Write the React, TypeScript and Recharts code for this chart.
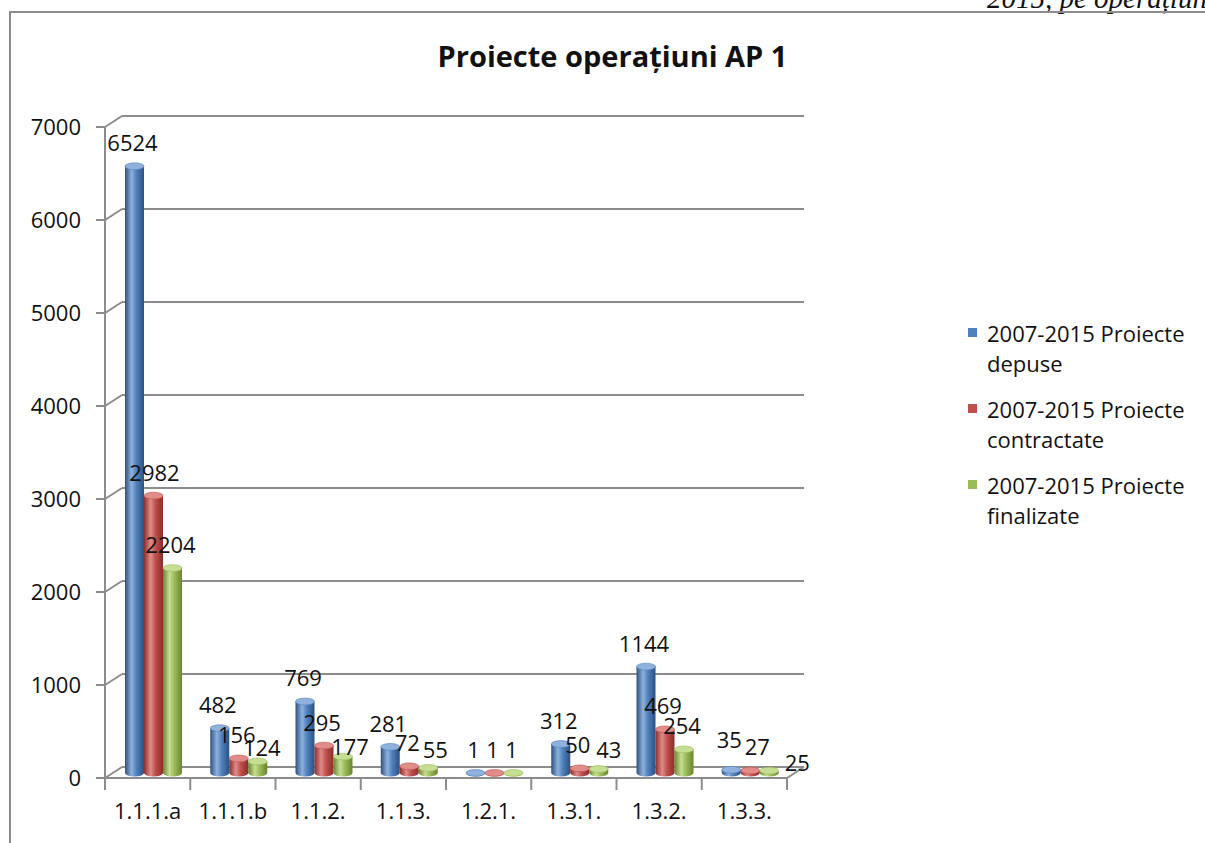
import React from "react";
import { BarChart, Bar, XAxis, YAxis, CartesianGrid, LabelList } from "recharts";

const categories = ["1.1.1.a", "1.1.1.b", "1.1.2.", "1.1.3.", "1.2.1.", "1.3.1.", "1.3.2.", "1.3.3."];
const depuse = [6524, 482, 769, 281, 1, 312, 1144, 35];
const contractate = [2982, 156, 295, 72, 1, 50, 469, 27];
const finalizate = [2204, 124, 177, 55, 1, 43, 254, 25];
const yTicks = [0, 1000, 2000, 3000, 4000, 5000, 6000, 7000];

const seriesList = [
  { key: "depuse", name: "2007-2015 Proiecte depuse", values: depuse, color: "#4F81BD", dark: "#2c5182", light: "#8fb1dc" },
  { key: "contractate", name: "2007-2015 Proiecte contractate", values: contractate, color: "#C0504D", dark: "#8a2d2a", light: "#e08c89" },
  { key: "finalizate", name: "2007-2015 Proiecte finalizate", values: finalizate, color: "#9BBB59", dark: "#68852f", light: "#c6de93" },
];

const data = categories.map((c, i) => ({
  name: c,
  depuse: depuse[i],
  contractate: contractate[i],
  finalizate: finalizate[i],
}));

// 3D look: bars and back wall are pushed up-right
const DX = 6;
const DY = -5;
const WALL_DX = 17;
const WALL_DY = -11;
const PLOT_BOTTOM = 778;
const PLOT_RIGHT = 787;
const BAND = (787 - 105) / categories.length;
const FONT = "'Open Sans', sans-serif";
const GRID = "#8c8c8c";

const Cylinder = (props: any) => {
  const { x, y, width, height, s } = props;
  const left = x + DX;
  const top = y + DY;
  const h = Math.max(height, 0);
  const rx = width / 2;
  const ry = 3.4;
  const d = `M${left},${top} L${left},${top + h} A${rx},${ry} 0 0 0 ${left + width},${top + h} L${left + width},${top} Z`;
  return (
    <g>
      <path d={d} fill={`url(#cyl-${s.key})`} />
      <ellipse cx={left + rx} cy={top} rx={rx} ry={ry} fill={s.light} stroke={s.color} strokeWidth={0.6} />
    </g>
  );
};

// excel moved a few labels around to dodge each other
const labelNudge: Record<string, [number, number]> = {
  "contractate-0": [3, 0],
  "finalizate-1": [6, 10],
  "finalizate-2": [9, 13],
  "finalizate-3": [9, 5],
  "finalizate-5": [12, 4],
  "depuse-7": [0, -7],
  "contractate-7": [9, 0],
  "finalizate-7": [30, 15],
};

const makeLabel = (key: string) => (props: any) => {
  const { x, y, width, value, index } = props;
  const nudge = labelNudge[`${key}-${index}`] || [0, 0];
  return (
    <text
      x={x + width / 2 + DX - 2 + nudge[0]}
      y={y + DY - 15 + nudge[1]}
      textAnchor="middle"
      fontFamily={FONT}
      fontSize={22}
      fill="#111"
    >
      {value}
    </text>
  );
};

const gridLine = (props: any) => {
  const { x1, y1, x2, index } = props;
  const isFloor = Math.abs(y1 - PLOT_BOTTOM) < 1;
  return (
    <g key={`g-${index}`}>
      <line x1={x1} y1={y1} x2={x1 + WALL_DX} y2={y1 + WALL_DY} stroke={GRID} strokeWidth={2} />
      <line x1={x1 + WALL_DX} y1={y1 + WALL_DY} x2={x2 + WALL_DX} y2={y1 + WALL_DY} stroke={GRID} strokeWidth={2} />
      {isFloor && (
        <line x1={x2} y1={y1} x2={x2 + WALL_DX} y2={y1 + WALL_DY} stroke={GRID} strokeWidth={2} />
      )}
    </g>
  );
};

const CategoryTick = (props: any) => {
  const { x, payload, index } = props;
  const left = x - BAND / 2;
  return (
    <g>
      <line x1={left} y1={PLOT_BOTTOM} x2={left} y2={PLOT_BOTTOM + 12} stroke={GRID} strokeWidth={2} />
      {index === categories.length - 1 && (
        <line x1={x + BAND / 2} y1={PLOT_BOTTOM} x2={x + BAND / 2} y2={PLOT_BOTTOM + 12} stroke={GRID} strokeWidth={2} />
      )}
      <text x={x} y={PLOT_BOTTOM + 41} textAnchor="middle" fontFamily={FONT} fontSize={22} fill="#111">
        {payload.value}
      </text>
    </g>
  );
};

export default function App() {
  return (
    <div style={{ position: "absolute", left: 0, top: 0, width: 1205, height: 843, overflow: "hidden", background: "#fff" }}>
      <div
        style={{
          position: "absolute",
          left: 987,
          top: -16,
          fontFamily: "'Liberation Serif', serif",
          fontStyle: "italic",
          fontSize: 29,
          lineHeight: "29px",
          whiteSpace: "nowrap",
          color: "#111",
        }}
      >
        2015, pe operațiuni
      </div>
      <div style={{ position: "absolute", left: 9, top: 11, width: 1300, height: 2, background: GRID }} />
      <div style={{ position: "absolute", left: 9, top: 11, width: 2, height: 900, background: GRID }} />
      <div
        style={{
          position: "absolute",
          left: 0,
          width: 1225,
          top: 36,
          textAlign: "center",
          fontFamily: FONT,
          fontWeight: 700,
          fontSize: 29,
          color: "#111",
        }}
      >
        Proiecte operațiuni AP 1
      </div>
      <div style={{ position: "absolute", left: 0, top: 0 }}>
        <BarChart
          width={1205}
          height={843}
          data={data}
          barGap={0}
          barSize={19}
          margin={{ top: 127, right: 1205 - PLOT_RIGHT, bottom: 35, left: 45 }}
        >
          <defs>
            {seriesList.map((s) => (
              <linearGradient key={s.key} id={`cyl-${s.key}`} x1="0" y1="0" x2="1" y2="0">
                <stop offset="0%" stopColor={s.dark} />
                <stop offset="35%" stopColor={s.light} />
                <stop offset="60%" stopColor={s.color} />
                <stop offset="100%" stopColor={s.dark} />
              </linearGradient>
            ))}
          </defs>
          <CartesianGrid vertical={false} horizontal={gridLine} />
          <XAxis
            dataKey="name"
            height={30}
            tickLine={false}
            axisLine={{ stroke: GRID, strokeWidth: 2 }}
            tick={<CategoryTick />}
            interval={0}
          />
          <YAxis
            width={60}
            domain={[0, 7000]}
            ticks={yTicks}
            tickSize={9}
            tickMargin={15}
            axisLine={{ stroke: GRID, strokeWidth: 2 }}
            tickLine={{ stroke: GRID, strokeWidth: 2 }}
            tick={{ fontFamily: FONT, fontSize: 22, fill: "#111" }}
          />
          {seriesList.map((s) => (
            <Bar
              key={s.key}
              dataKey={s.key}
              name={s.name}
              fill={s.color}
              isAnimationActive={false}
              shape={(p: any) => <Cylinder {...p} s={s} />}
            >
              <LabelList dataKey={s.key} content={makeLabel(s.key)} />
            </Bar>
          ))}
        </BarChart>
      </div>
      <div style={{ position: "absolute", left: 966, top: 318, fontFamily: FONT, fontSize: 22, color: "#111" }}>
        {seriesList.map((s) => (
          <div key={s.key} style={{ position: "relative", paddingLeft: 21, width: 205, lineHeight: "30px", marginBottom: 16 }}>
            <span style={{ position: "absolute", left: 2, top: 10, width: 9, height: 9, background: s.color }} />
            {s.name}
          </div>
        ))}
      </div>
    </div>
  );
}
